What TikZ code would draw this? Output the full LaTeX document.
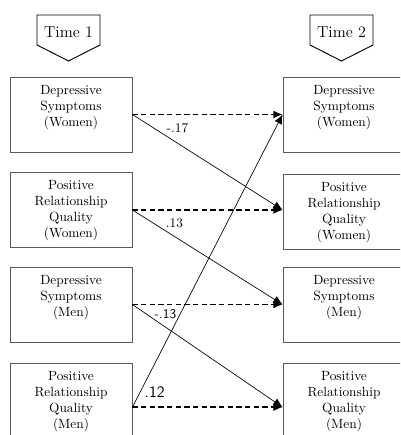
\documentclass[tikz,border=0pt]{standalone}
\usetikzlibrary{arrows.meta}
\newcommand{\boxtext}[1]{\parbox[c][44pt][t]{88pt}{\centering #1}}
\tikzset{
	varbox/.style = {draw=black!65, line width=0.6pt, minimum width=91.5pt, minimum height=56.25pt, inner sep=0pt, font=\normalsize},
	stab/.style = {dashed, line width=1.1pt, dash pattern=on 4pt off 2.5pt, -{Latex[length=7pt,width=6pt]}},
	cross/.style = {line width=0.5pt, -{Latex[length=7pt,width=6pt]}}
}
\begin{document}
\begin{tikzpicture}[x=0.75pt, y=-0.75pt]
		\useasboundingbox (0,0) rectangle (400,435);
		\clip (0,0) rectangle (400,435);

		% time labels
		\node [font=\large] (time1) at (68.5,32)  {Time 1};
		\node [font=\large] (time2) at (341.5,32)  {Time 2};
		\draw [line width=0.7pt] (37,15) -- (100,15) -- (100,45) -- (68.5,61) -- (37,45) -- cycle;
		\draw [line width=0.7pt] (310,15) -- (373,15) -- (373,45) -- (341.5,61) -- (310,45) -- cycle;

		% time 1
		\node [varbox] (dw1) at (71,114.5)  {\boxtext{Depressive\\Symptoms\\(Women)}};
		\node [varbox] (rw1) at (71,210)  {\boxtext{Positive\\Relationship\\Quality\\(Women)}};
		\node [varbox] (dm1) at (71,304.5)  {\boxtext{Depressive\\Symptoms\\(Men)}};
		\node [varbox] (rm1) at (71,400.5)  {\boxtext{Positive\\Relationship\\Quality\\(Men)}};

		% time 2
		\node [varbox] (dw2) at (344,114.5)  {\boxtext{Depressive\\Symptoms\\(Women)}};
		\node [varbox] (rw2) at (344,212)  {\boxtext{Positive\\Relationship\\Quality\\(Women)}};
		\node [varbox] (dm2) at (344,304.5)  {\boxtext{Depressive\\Symptoms\\(Men)}};
		\node [varbox] (rm2) at (344,400.5)  {\boxtext{Positive\\Relationship\\Quality\\(Men)}};

		\draw [stab] (dw1.east) -- (dw2.west);
		\draw [stab] (rw1.east) -- (rw1.east -| rw2.west);
		\draw [stab] (dm1.east) -- (dm2.west);
		\draw [stab] ([yshift=-5pt]rm1.east) -- ([yshift=-5pt]rm2.west);

		\draw [cross] (dw1.east) -- (rw1.east -| rw2.west) node [pos=0.3, above, yshift=4pt] {-.17};
		\draw [cross] (rw1.east) -- (dm2.west) node [pos=0.28, above, yshift=3pt] {.13};
		\draw [cross] (dm1.east) -- ([yshift=-5pt]rm2.west) node [pos=0.22, above, yshift=3pt, font=\sffamily] {-.13};
		\draw [cross] ([yshift=-5pt]rm1.east) -- (dw2.west) node [pos=0.05, right, font=\sffamily\large] {.12};
	\end{tikzpicture}
\end{document}
